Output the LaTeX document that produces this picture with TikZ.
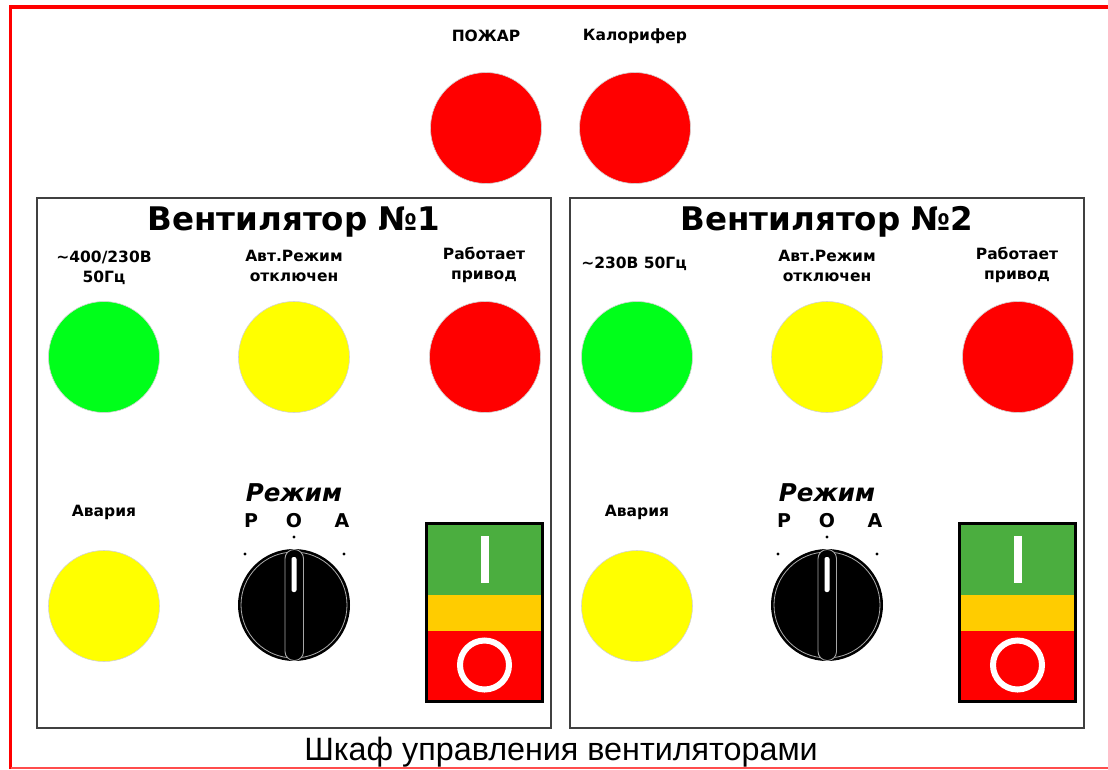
\documentclass[tikz,border=0pt]{standalone}
\usepackage{fontspec}
\setmainfont{DejaVu Sans}
\newfontfamily\arialfont{Liberation Sans}
\definecolor{lampred}{HTML}{FF0000}
\definecolor{lampgreen}{HTML}{00FF1A}
\definecolor{lampyellow}{HTML}{FFFF00}
\definecolor{swgreen}{HTML}{4BAE3F}
\definecolor{swyellow}{HTML}{FFCC00}
\definecolor{paneledge}{HTML}{404040}
\begin{document}
\begin{tikzpicture}[x=1pt,y=-1pt,
  lamp/.style={circle, minimum size=111pt, inner sep=0pt, draw=gray!35, line width=0.6pt},
  lbl/.style={font=\bfseries\fontsize{15.5}{20.5}\selectfont, align=center, inner sep=0pt},
  ttl/.style={font=\bfseries\fontsize{32.5}{36}\selectfont, inner sep=0pt},
  poa/.style={font=\bfseries\fontsize{19}{22}\selectfont, inner sep=0pt},
  panel/.style={draw=paneledge, line width=2pt},
  dotm/.style={circle, fill=black, inner sep=0pt, minimum size=3.2pt}]
\useasboundingbox (0,0) rectangle (1108,769);
% outer red frame
\draw[lampred, line width=3.5pt] (10.5,769) -- (10.5,7) -- (1108,7);
\draw[lampred!70, line width=1.5pt] (10.5,768) -- (1108,768);
% top lamps
\node[lbl] (lfire) at (486,36) {ПОЖАР};
\node[lbl] (lcal) at (635,36) {Калорифер};
\node[lamp, fill=lampred] (fire) at (486,128) {};
\node[lamp, fill=lampred] (cal) at (635,128) {};
% panels
\foreach \dx/\n/\lab in {0/1/{\textasciitilde400/230В\\50Гц}, 533/2/{\textasciitilde230В 50Гц}}{
\begin{scope}[xshift=\dx pt]
  \draw[panel] (37,198) rectangle (551,728);
  \node[ttl] (t\n) at (294,222) {Вентилятор №\n};
  \ifnum\n=1
    \node[lbl] (lp\n) at (104,268) {\lab};
  \else
    \node[lbl] (lp\n) at (101,264) {\lab};
  \fi
  \node[lbl] (la\n) at (294,266) {Авт.Режим\\отключен};
  \node[lbl] (lw\n) at (484,265) {Работает\\привод};
  \node[lamp, fill=lampgreen] (p\n) at (104,357) {};
  \node[lamp, fill=lampyellow] (a\n) at (294,357) {};
  \node[lamp, fill=lampred] (w\n) at (485,357) {};
  \node[lbl] (le\n) at (104,512) {Авария};
  \node[lamp, fill=lampyellow] (e\n) at (104,606) {};
  % mode selector
  \node[font=\bfseries\itshape\fontsize{24.5}{28}\selectfont, inner sep=0pt] (m\n) at (294,493) {Режим};
  \node[poa] (mp\n) at (251,521) {Р};
  \node[poa] (mo\n) at (294,521) {О};
  \node[poa] (ma\n) at (342,521) {А};
  \node[dotm] (dp\n) at (245,554) {};
  \node[dotm] (do\n) at (294,537) {};
  \node[dotm] (da\n) at (344,554) {};
  \node[circle, fill=black, minimum size=112pt, inner sep=0pt] (k\n) at (294,605) {};
  \draw[gray!65, line width=0.8pt] (k\n.center) circle (53);
  \draw[gray!70, fill=black, line width=0.9pt, rounded corners=9pt] (285,549.5) rectangle (303.5,660.5);
  \fill[white, rounded corners=2pt] (291.5,557) rectangle (296.5,592);
  % on/off switch
  \fill[swgreen] (427,524) rectangle (542,595);
  \fill[swyellow] (427,595) rectangle (542,631);
  \fill[lampred] (427,631) rectangle (542,701);
  \draw[black, line width=2.6pt] (426.5,523.5) rectangle (542.5,701.5);
  \fill[white] (481,536) rectangle (489,583);
  \draw[white, line width=6pt] (484.5,665) circle (24.5);
\end{scope}
}
\node[font=\arialfont\fontsize{32.3}{38}\selectfont, inner sep=0pt] (cap) at (561,752) {Шкаф управления вентиляторами};
\end{tikzpicture}
\end{document}
